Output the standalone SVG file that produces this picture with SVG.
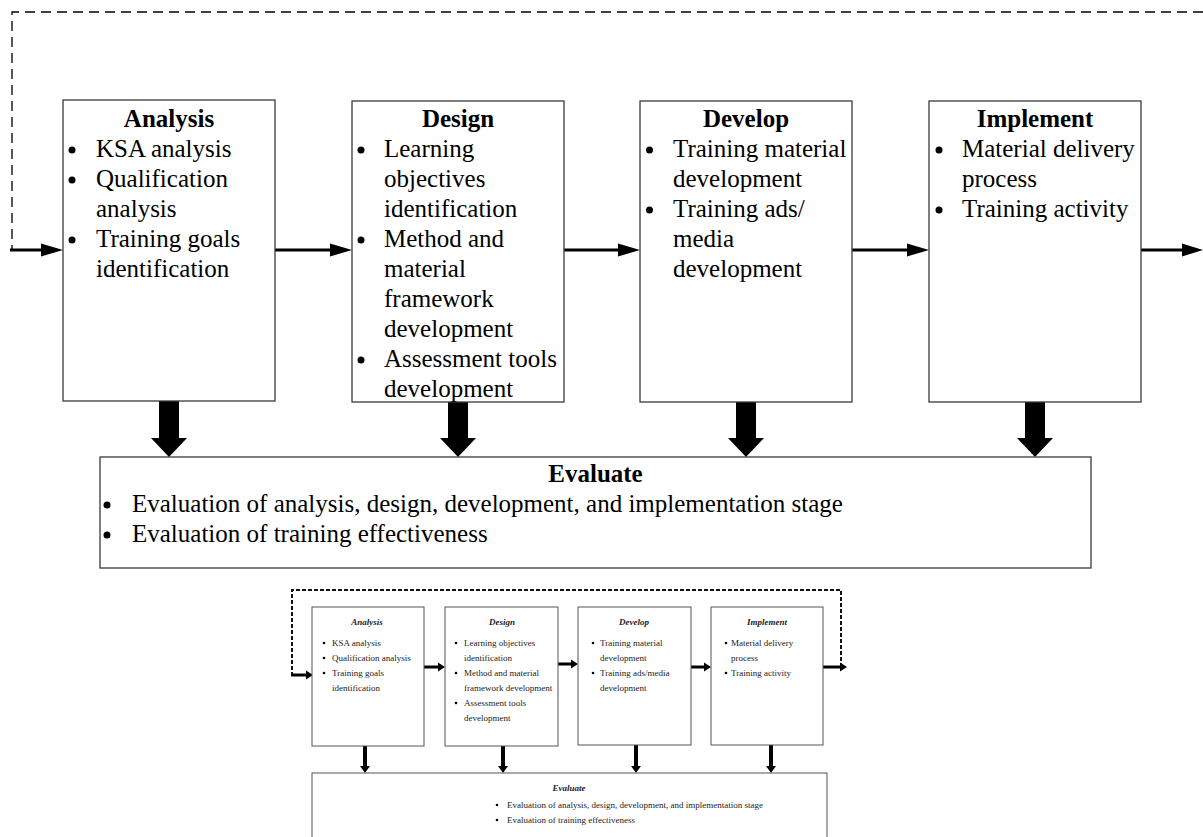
<svg xmlns="http://www.w3.org/2000/svg" width="1203" height="837" viewBox="0 0 1203 837">
<style>
  .box { fill: #ffffff; stroke: #3a3a3a; stroke-width: 1.3; }
  .sbox { fill: #ffffff; stroke: #555555; stroke-width: 1; }
  .t { font-family: "Liberation Serif", "Times New Roman", serif; font-size: 25px; fill: #000; }
  .tt { font-family: "Liberation Serif", "Times New Roman", serif; font-size: 25px; font-weight: bold; fill: #000; text-anchor: middle; }
  .s { font-family: "Liberation Serif", "Times New Roman", serif; font-size: 9px; fill: #222; }
  .st { font-family: "Liberation Serif", "Times New Roman", serif; font-size: 9px; font-weight: bold; font-style: italic; fill: #222; text-anchor: middle; }
  .ln { stroke: #000; stroke-width: 3; fill: none; }
  .dash { stroke: #000; stroke-width: 1.3; fill: none; stroke-dasharray: 10 6; }
  .sdash { stroke: #111; stroke-width: 2; fill: none; stroke-dasharray: 4 2; }
  .head { fill: #000; }
</style>
<rect width="1203" height="837" fill="#ffffff"/>

<g id="connectors">
  <path class="dash" d="M 1203 12 H 12 V 250"/>
  <line class="ln" x1="10" y1="250" x2="44" y2="250"/>
  <polygon class="head" points="63,250 41,243.5 41,256.5"/>
  <line class="ln" x1="275" y1="250" x2="333" y2="250"/>
  <polygon class="head" points="352,250 330,243.5 330,256.5"/>
  <line class="ln" x1="564" y1="250" x2="621" y2="250"/>
  <polygon class="head" points="640,250 618,243.5 618,256.5"/>
  <line class="ln" x1="852" y1="250" x2="910" y2="250"/>
  <polygon class="head" points="929,250 907,243.5 907,256.5"/>
  <line class="ln" x1="1141" y1="250" x2="1185" y2="250"/>
  <polygon class="head" points="1203,250 1182,243.5 1182,256.5"/>
  <polygon class="head" points="159,401 179,401 179,438 187,438 169,457 151,438 159,438"/>
  <polygon class="head" points="448,402 468,402 468,438 476,438 458,457 440,438 448,438"/>
  <polygon class="head" points="736,402 756,402 756,438 764,438 746,457 728,438 736,438"/>
  <polygon class="head" points="1025,402 1045,402 1045,438 1053,438 1035,457 1017,438 1025,438"/>
</g>

<g id="analysis">
  <rect class="box" x="63" y="100" width="212" height="301"/>
  <text class="tt" x="169" y="127">Analysis</text>
  <circle cx="72" cy="150" r="3.5"/>
  <text class="t" x="96" y="157">KSA analysis</text>
  <circle cx="72" cy="180" r="3.5"/>
  <text class="t" x="96" y="187">Qualification</text>
  <text class="t" x="96" y="217">analysis</text>
  <circle cx="72" cy="240" r="3.5"/>
  <text class="t" x="96" y="247">Training goals</text>
  <text class="t" x="96" y="277">identification</text>
</g>

<g id="design">
  <rect class="box" x="352" y="101" width="212" height="301"/>
  <text class="tt" x="458" y="127">Design</text>
  <circle cx="361" cy="150" r="3.5"/>
  <text class="t" x="384" y="157">Learning</text>
  <text class="t" x="384" y="187">objectives</text>
  <text class="t" x="384" y="217">identification</text>
  <circle cx="361" cy="240" r="3.5"/>
  <text class="t" x="384" y="247">Method and</text>
  <text class="t" x="384" y="277">material</text>
  <text class="t" x="384" y="307">framework</text>
  <text class="t" x="384" y="337">development</text>
  <circle cx="361" cy="360" r="3.5"/>
  <text class="t" x="384" y="367">Assessment tools</text>
  <text class="t" x="384" y="397">development</text>
</g>

<g id="develop">
  <rect class="box" x="640" y="101" width="212" height="301"/>
  <text class="tt" x="746" y="127">Develop</text>
  <circle cx="649.5" cy="150" r="3.5"/>
  <text class="t" x="673" y="157">Training material</text>
  <text class="t" x="673" y="187">development</text>
  <circle cx="649.5" cy="210" r="3.5"/>
  <text class="t" x="673" y="217">Training ads/</text>
  <text class="t" x="673" y="247">media</text>
  <text class="t" x="673" y="277">development</text>
</g>

<g id="implement">
  <rect class="box" x="929" y="101" width="212" height="301"/>
  <text class="tt" x="1035" y="127">Implement</text>
  <circle cx="939" cy="150" r="3.5"/>
  <text class="t" x="962" y="157">Material delivery</text>
  <text class="t" x="962" y="187">process</text>
  <circle cx="939" cy="210" r="3.5"/>
  <text class="t" x="962" y="217">Training activity</text>
</g>

<g id="evaluate">
  <rect class="box" x="100" y="457" width="991" height="111"/>
  <text class="tt" x="595.5" y="482">Evaluate</text>
  <circle cx="107" cy="505" r="3.5"/>
  <text class="t" x="132" y="512">Evaluation of analysis, design, development, and implementation stage</text>
  <circle cx="107" cy="535" r="3.5"/>
  <text class="t" x="132" y="542">Evaluation of training effectiveness</text>
</g>

<g id="small-connectors">
  <path class="sdash" d="M 841 667 V 590 H 292 V 675"/>
  <line class="ln" x1="291" y1="675" x2="307" y2="675"/>
  <polygon class="head" points="313,675 306,670.5 306,679.5"/>
  <line class="ln" x1="424" y1="667" x2="439" y2="667"/>
  <polygon class="head" points="445,667 438,662.5 438,671.5"/>
  <line class="ln" x1="558" y1="664" x2="572" y2="664"/>
  <polygon class="head" points="578,664 571,659.5 571,668.5"/>
  <line class="ln" x1="691" y1="667" x2="705" y2="667"/>
  <polygon class="head" points="711,667 704,662.5 704,671.5"/>
  <line class="ln" x1="823" y1="667" x2="840" y2="667"/>
  <polygon class="head" points="847,667 840,662.5 840,671.5"/>
  <polygon class="head" points="363,746 367,746 367,766 370,766 365,773 360,766 363,766"/>
  <polygon class="head" points="501,746 505,746 505,766 508,766 503,773 498,766 501,766"/>
  <polygon class="head" points="634,745 638,745 638,766 641,766 636,773 631,766 634,766"/>
  <polygon class="head" points="769,745 773,745 773,766 776,766 771,773 766,766 769,766"/>
</g>

<g id="s-analysis">
  <rect class="sbox" x="312" y="607" width="112" height="139"/>
  <text class="st" x="367" y="625">Analysis</text>
  <circle cx="324" cy="643" r="1.3"/>
  <text class="s" x="332" y="646">KSA analysis</text>
  <circle cx="324" cy="658" r="1.3"/>
  <text class="s" x="332" y="661">Qualification analysis</text>
  <circle cx="324" cy="673" r="1.3"/>
  <text class="s" x="332" y="676">Training goals</text>
  <text class="s" x="332" y="691">identification</text>
</g>

<g id="s-design">
  <rect class="sbox" x="445" y="607" width="113" height="139"/>
  <text class="st" x="502" y="625">Design</text>
  <circle cx="456" cy="643" r="1.3"/>
  <text class="s" x="464" y="646">Learning objectives</text>
  <text class="s" x="464" y="661">identification</text>
  <circle cx="456" cy="673" r="1.3"/>
  <text class="s" x="464" y="676">Method and material</text>
  <text class="s" x="464" y="691">framework development</text>
  <circle cx="456" cy="703" r="1.3"/>
  <text class="s" x="464" y="706">Assessment tools</text>
  <text class="s" x="464" y="721">development</text>
</g>

<g id="s-develop">
  <rect class="sbox" x="578" y="607" width="113" height="138"/>
  <text class="st" x="634" y="625">Develop</text>
  <circle cx="593" cy="643" r="1.3"/>
  <text class="s" x="600" y="646">Training material</text>
  <text class="s" x="600" y="661">development</text>
  <circle cx="593" cy="673" r="1.3"/>
  <text class="s" x="600" y="676">Training ads/media</text>
  <text class="s" x="600" y="691">development</text>
</g>

<g id="s-implement">
  <rect class="sbox" x="711" y="607" width="112" height="138"/>
  <text class="st" x="767" y="625">Implement</text>
  <circle cx="726" cy="643" r="1.3"/>
  <text class="s" x="731" y="646">Material delivery</text>
  <text class="s" x="731" y="661">process</text>
  <circle cx="726" cy="673" r="1.3"/>
  <text class="s" x="731" y="676">Training activity</text>
</g>

<g id="s-evaluate">
  <rect class="sbox" x="312" y="773" width="515" height="90"/>
  <text class="st" x="569" y="791">Evaluate</text>
  <circle cx="497" cy="805" r="1.3"/>
  <text class="s" x="507" y="808">Evaluation of analysis, design, development, and implementation stage</text>
  <circle cx="497" cy="820" r="1.3"/>
  <text class="s" x="507" y="823">Evaluation of training effectiveness</text>
</g>
</svg>
